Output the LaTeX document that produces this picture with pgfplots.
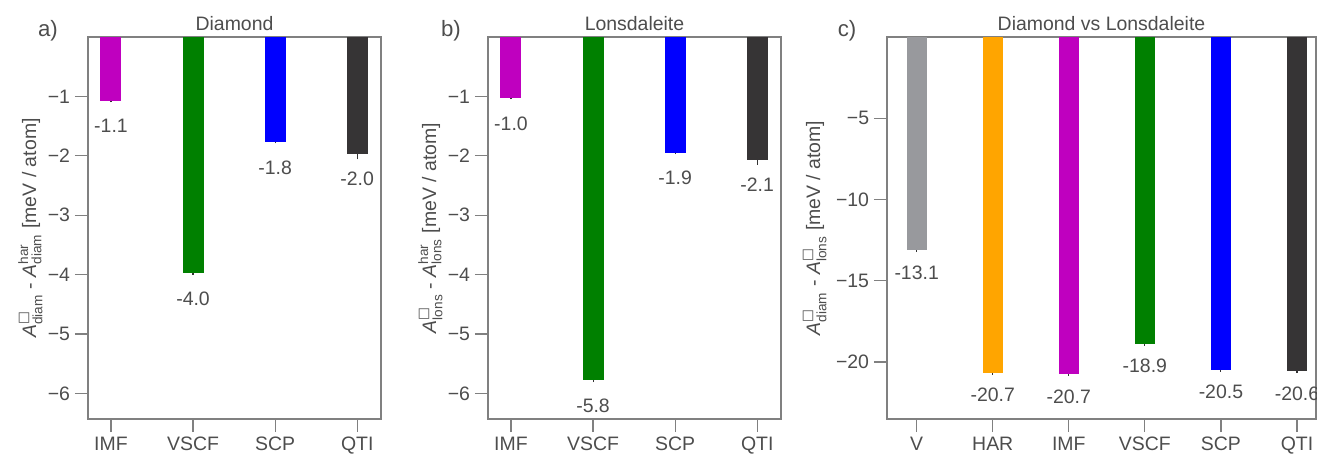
\documentclass[border=0pt]{standalone}
\usepackage{amsmath}
\usepackage{fontspec}
\setmainfont{Liberation Sans}
\newfontfamily\dejavu{DejaVu Sans}
\usepackage{pgfplots}
\pgfplotsset{compat=1.18}
\definecolor{txt}{HTML}{4D4D4D}
\definecolor{spine}{HTML}{808080}
\definecolor{cm}{HTML}{BF00BF}
\definecolor{cg}{HTML}{008000}
\definecolor{cb}{HTML}{0000FF}
\definecolor{cd}{HTML}{363435}
\definecolor{cv}{HTML}{98999D}
\definecolor{co}{HTML}{FFA500}
\definecolor{errc}{HTML}{333333}
\newcommand\sq{\text{\dejavu □}}
\newcommand\fs{\fontsize{14bp}{16bp}\selectfont}
\pgfplotsset{
  every axis title/.style={font=\fs, text=txt, at={(0.5,1)}, anchor=south, inner sep=0pt, yshift=4.3bp},
  panel/.style={
    scale only axis, height=275.04bp, ymax=0,
    axis line style={draw=spine, line width=0.9bp},
    every tick/.style={draw=spine, line width=0.9bp},
    major tick length=9.4bp,
    tick align=outside,
    tick pos=left,
    tick label style={font=\fs, text=txt},
    label style={font=\fs, text=txt},
    clip=false,
  },
  mybar/.style={ybar, bar width=#1, bar shift=0pt, draw=none,
    error bars/y dir=minus, error bars/y explicit, error bars/error mark=none,
    error bars/error bar style={line width=0.8bp, draw=errc},
    nodes near coords, point meta=explicit symbolic,
    every node near coord/.append style={font=\fs, text=txt, inner sep=0pt, anchor=north}},
}
\begin{document}
\begin{tikzpicture}
% ---------------- panel a
\begin{axis}[panel, at={(63.36bp,27.36bp)}, anchor=south west, width=210.96bp,
  xmin=-0.28, xmax=3.29, ymin=-6.43,
  xtick={0,1,2,3}, xticklabels={IMF,VSCF,SCP,QTI},
  ytick={-6,-5,-4,-3,-2,-1}, yticklabels={−6,−5,−4,−3,−2,−1},
  title={Diamond},
  ylabel={$\textit{A}^{\sq}_{\text{diam}}$ - $\textit{A}^{\text{har}}_{\text{diam}}$ [meV / atom]},
  ylabel style={at={(axis description cs:-0.177,0.5)}, anchor=base},
  every node near coord/.append style={yshift=-13bp}]
\addplot[mybar=15.1bp, fill=cm] table[x index=0, y index=1, y error index=2, meta index=3, header=false] {
0 -1.08 0.02 -1.1
};
\addplot[mybar=15.1bp, fill=cg] table[x index=0, y index=1, y error index=2, meta index=3, header=false] {
1 -3.98 0.03 -4.0
};
\addplot[mybar=15.1bp, fill=cb] table[x index=0, y index=1, y error index=2, meta index=3, header=false] {
2 -1.77 0.02 -1.8
};
\addplot[mybar=15.1bp, fill=cd] table[x index=0, y index=1, y error index=2, meta index=3, header=false] {
3 -1.97 0.09 -2.0
};
\end{axis}
% ---------------- panel b
\begin{axis}[panel, at={(351.36bp,27.36bp)}, anchor=south west, width=210.96bp,
  xmin=-0.28, xmax=3.29, ymin=-6.43,
  xtick={0,1,2,3}, xticklabels={IMF,VSCF,SCP,QTI},
  ytick={-6,-5,-4,-3,-2,-1}, yticklabels={−6,−5,−4,−3,−2,−1},
  title={Lonsdaleite},
  ylabel={$\textit{A}^{\sq}_{\text{lons}}$ - $\textit{A}^{\text{har}}_{\text{lons}}$ [meV / atom]},
  ylabel style={at={(axis description cs:-0.177,0.5)}, anchor=base},
  every node near coord/.append style={yshift=-13bp}]
\addplot[mybar=15.1bp, fill=cm] table[x index=0, y index=1, y error index=2, meta index=3, header=false] {
0 -1.03 0.02 -1.0
};
\addplot[mybar=15.1bp, fill=cg] table[x index=0, y index=1, y error index=2, meta index=3, header=false] {
1 -5.78 0.03 -5.8
};
\addplot[mybar=15.1bp, fill=cb] table[x index=0, y index=1, y error index=2, meta index=3, header=false] {
2 -1.95 0.02 -1.9
};
\addplot[mybar=15.1bp, fill=cd] table[x index=0, y index=1, y error index=2, meta index=3, header=false] {
3 -2.07 0.08 -2.1
};
\end{axis}
% ---------------- panel c
\begin{axis}[panel, at={(638.64bp,27.36bp)}, anchor=south west, width=308.88bp,
  xmin=-0.39, xmax=5.25, ymin=-23.5,
  xtick={0,1,2,3,4,5}, xticklabels={V,HAR,IMF,VSCF,SCP,QTI},
  ytick={-20,-15,-10,-5}, yticklabels={−20,−15,−10,−5},
  title={Diamond vs Lonsdaleite},
  ylabel={$\textit{A}^{\sq}_{\text{diam}}$ - $\textit{A}^{\sq}_{\text{lons}}$ [meV / atom]},
  ylabel style={at={(axis description cs:-0.156,0.5)}, anchor=base},
  every node near coord/.append style={yshift=-10.8bp}]
\addplot[mybar=14.4bp, fill=cv] table[x index=0, y index=1, y error index=2, meta index=3, header=false] {
0 -13.13 0.1 -13.1
};
\addplot[mybar=14.4bp, fill=co] table[x index=0, y index=1, y error index=2, meta index=3, header=false] {
1 -20.67 0.1 -20.7
};
\addplot[mybar=14.4bp, fill=cm] table[x index=0, y index=1, y error index=2, meta index=3, header=false] {
2 -20.75 0.1 -20.7
};
\addplot[mybar=14.4bp, fill=cg] table[x index=0, y index=1, y error index=2, meta index=3, header=false] {
3 -18.89 0.1 -18.9
};
\addplot[mybar=14.4bp, fill=cb] table[x index=0, y index=1, y error index=2, meta index=3, header=false] {
4 -20.48 0.1 -20.5
};
\addplot[mybar=14.4bp, fill=cd] table[x index=0, y index=1, y error index=2, meta index=3, header=false] {
5 -20.56 0.12 -20.6
};
\end{axis}
\node[font=\fontsize{16bp}{19bp}\selectfont, text=txt] at (34.56bp,307.08bp) {a)};
\node[font=\fontsize{16bp}{19bp}\selectfont, text=txt] at (324.72bp,307.08bp) {b)};
\node[font=\fontsize{16bp}{19bp}\selectfont, text=txt] at (609.84bp,307.08bp) {c)};
\pgfresetboundingbox
\path (0,0) rectangle (948.24bp,329.04bp);
\end{tikzpicture}
\end{document}
